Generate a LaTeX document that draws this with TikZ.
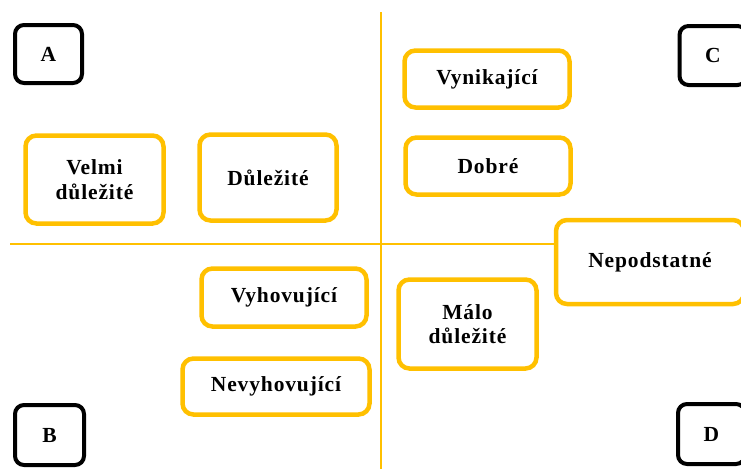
\documentclass[tikz,border=0pt]{standalone}
\usepackage{fontspec}
\setmainfont{Liberation Serif}[LetterSpace=4]
\definecolor{amber}{HTML}{FFC000}
\begin{document}
\begin{tikzpicture}[x=1pt,y=-1pt,
  label/.style={font=\fontsize{21.5}{24.5}\selectfont\bfseries, align=center, inner sep=0pt},
  item/.style={label, draw=amber, line width=4.5pt, rounded corners=11pt, fill=white},
  corner/.style={label, draw=black, line width=4pt, rounded corners=9pt, fill=white},
  axis/.style={draw=amber, line width=2.8pt}]
  \useasboundingbox (0,0) rectangle (741,469);
  \clip (0,0) rectangle (741,469);

  % quadrant axes
  \coordinate (vtop) at (381,12);
  \coordinate (vbot) at (381,469);
  \coordinate (hleft) at (10,244);

  \node[item, minimum width=188pt, minimum height=84pt] (nep) at (650,262) {Nepodstatné};
  \draw[axis] (vtop) -- (vbot);
  \draw[axis] (hleft) -- (hleft -| nep.west);

  % corner markers
  \node[corner, minimum width=67pt, minimum height=58pt] (a) at (48.5,54) {A};
  \node[corner, minimum width=67pt, minimum height=59pt] (c) at (713,55.5) {C};
  \node[corner, minimum width=69pt, minimum height=60pt] (b) at (49.5,435) {B};
  \node[corner, minimum width=67pt, minimum height=60pt] (d) at (711.5,434) {D};

  % category boxes
  \node[item, minimum width=138pt, minimum height=88pt] (velmi) at (94.5,179.5) {Velmi\\důležité};
  \node[item, minimum width=137pt, minimum height=86pt] (dul) at (268,177.5) {Důležité};
  \node[item, minimum width=165pt, minimum height=57pt] (vyn) at (487,79) {Vynikající};
  \node[item, minimum width=165pt, minimum height=57pt] (dob) at (488,166) {Dobré};
  \node[item, minimum width=138pt, minimum height=89pt] (malo) at (467.5,324) {Málo\\důležité};
  \node[item, minimum width=165pt, minimum height=58pt] (vyh) at (284,297.5) {Vyhovující};
  \node[item, minimum width=187pt, minimum height=56pt] (nev) at (276,386.5) {Nevyhovující};
\end{tikzpicture}
\end{document}
